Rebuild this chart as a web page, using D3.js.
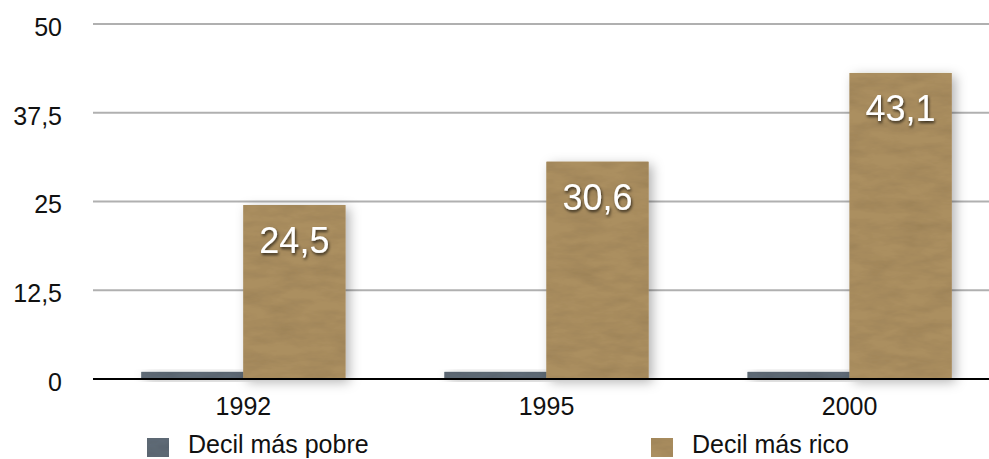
<!DOCTYPE html>
<html><head><meta charset="utf-8">
<script src="https://cdn.jsdelivr.net/npm/d3@7"></script>
<style>body{margin:0;background:#fff;} svg{display:block;} svg text{font-family:"Liberation Sans",Arial,Helvetica,sans-serif;}</style>
</head><body>
<svg id="c" width="989" height="459"></svg>
<script>
const categories = ["1992", "1995", "2000"];
const seriesNames = ["Decil más pobre", "Decil más rico"];
const poorValues = [1.0, 1.0, 1.0];
const richValues = [24.5, 30.6, 43.1];
const yTicks = [0, 12.5, 25, 37.5, 50];
const colors = ["#5f6b76", "#ab8f61"];

const svg = d3.select("#c");
const defs = svg.append("defs");
const sh = defs.append("filter").attr("id","shadow").attr("x","-30%").attr("y","-30%").attr("width","160%").attr("height","160%");
sh.append("feDropShadow").attr("dx",4).attr("dy",3).attr("stdDeviation",6).attr("flood-color","#000").attr("flood-opacity",0.3);
const tx = defs.append("filter").attr("id","tex").attr("x","0").attr("y","0").attr("width","100%").attr("height","100%");
tx.append("feTurbulence").attr("type","fractalNoise").attr("baseFrequency","0.03 0.09").attr("numOctaves",4).attr("seed",7).attr("result","n");
tx.append("feColorMatrix").attr("in","n").attr("type","matrix").attr("values","0 0 0 0 0  0 0 0 0 0  0 0 0 0 0  0.3 0 0 0 -0.1").attr("result","a");
tx.append("feComposite").attr("in","a").attr("in2","SourceGraphic").attr("operator","in").attr("result","b");
tx.append("feMerge").call(m=>{m.append("feMergeNode").attr("in","SourceGraphic");m.append("feMergeNode").attr("in","b");});
const ts = defs.append("filter").attr("id","tshadow").attr("x","-20%").attr("y","-20%").attr("width","140%").attr("height","150%");
ts.append("feDropShadow").attr("dx",1).attr("dy",2).attr("stdDeviation",1.5).attr("flood-color","#000").attr("flood-opacity",0.7);

const x0 = d3.scaleBand().domain(categories).range([92, 1001]).paddingInner(0.327).paddingOuter(0.163);
const x1 = d3.scaleBand().domain(seriesNames).range([0, x0.bandwidth()]);
const y = d3.scaleLinear().domain([0, 50]).range([379, 24]);

const FF = '"Liberation Sans",Arial,Helvetica,sans-serif';

// y axis labels
const yAxis = d3.axisLeft(y).tickValues(yTicks).tickSize(0).tickPadding(0)
  .tickFormat(d => String(d).replace(".", ","));
const gy = svg.append("g").attr("transform","translate(62,0)").call(yAxis);
gy.attr("font-family", FF).attr("font-size", 25);
gy.select(".domain").remove();
gy.selectAll("text").attr("fill","#111").attr("x",0).attr("dy","0.45em");

// gridlines
svg.append("g").selectAll("line").data(yTicks.filter(d=>d>0)).join("line")
  .attr("x1",93).attr("x2",989).attr("y1",d=>y(d)).attr("y2",d=>y(d))
  .attr("stroke","#b0b0b0").attr("stroke-width",2);

const data = categories.map((c,i)=>({c, vals:[poorValues[i], richValues[i]]}));
const g = svg.append("g");
data.forEach(d=>{
  d.vals.forEach((v,j)=>{
    g.append("rect")
      .attr("x", x0(d.c)+x1(seriesNames[j]))
      .attr("y", y(v)).attr("width", x1.bandwidth()).attr("height", y(0)-y(v))
      .attr("fill", colors[j]).attr("filter","url(#shadow)");
    g.append("rect")
      .attr("x", x0(d.c)+x1(seriesNames[j]))
      .attr("y", y(v)).attr("width", x1.bandwidth()).attr("height", y(0)-y(v))
      .attr("fill", colors[j]).attr("filter","url(#tex)");
  });
});

// zero line
svg.append("line").attr("x1",93).attr("x2",989).attr("y1",y(0)).attr("y2",y(0)).attr("stroke","#000").attr("stroke-width",2);

// value labels
data.forEach(d=>{
  const v = d.vals[1];
  svg.append("text")
    .attr("x", x0(d.c)+x1(seriesNames[1])+x1.bandwidth()/2)
    .attr("y", y(v)+48).attr("text-anchor","middle")
    .attr("font-size",36).attr("fill","#fff").attr("filter","url(#tshadow)")
    .text(String(v).replace(".", ","));
});

// x axis labels
const xAxis = d3.axisBottom(x0).tickSize(0).tickPadding(0);
const gx = svg.append("g").attr("transform","translate(0,415)").call(xAxis);
gx.attr("font-family", FF).attr("font-size", 25);
gx.select(".domain").remove();
gx.selectAll("text").attr("fill","#111").attr("dy",0);

// legend
const legX = [147, 651];
seriesNames.forEach((s,j)=>{
  svg.append("rect").attr("x",legX[j]).attr("y",438).attr("width",22).attr("height",19).attr("fill",colors[j]).attr("filter","url(#tex)");
  svg.append("text").attr("x",legX[j]+41).attr("y",453).attr("font-size",25).attr("fill","#111").text(s);
});
</script>
</body></html>
